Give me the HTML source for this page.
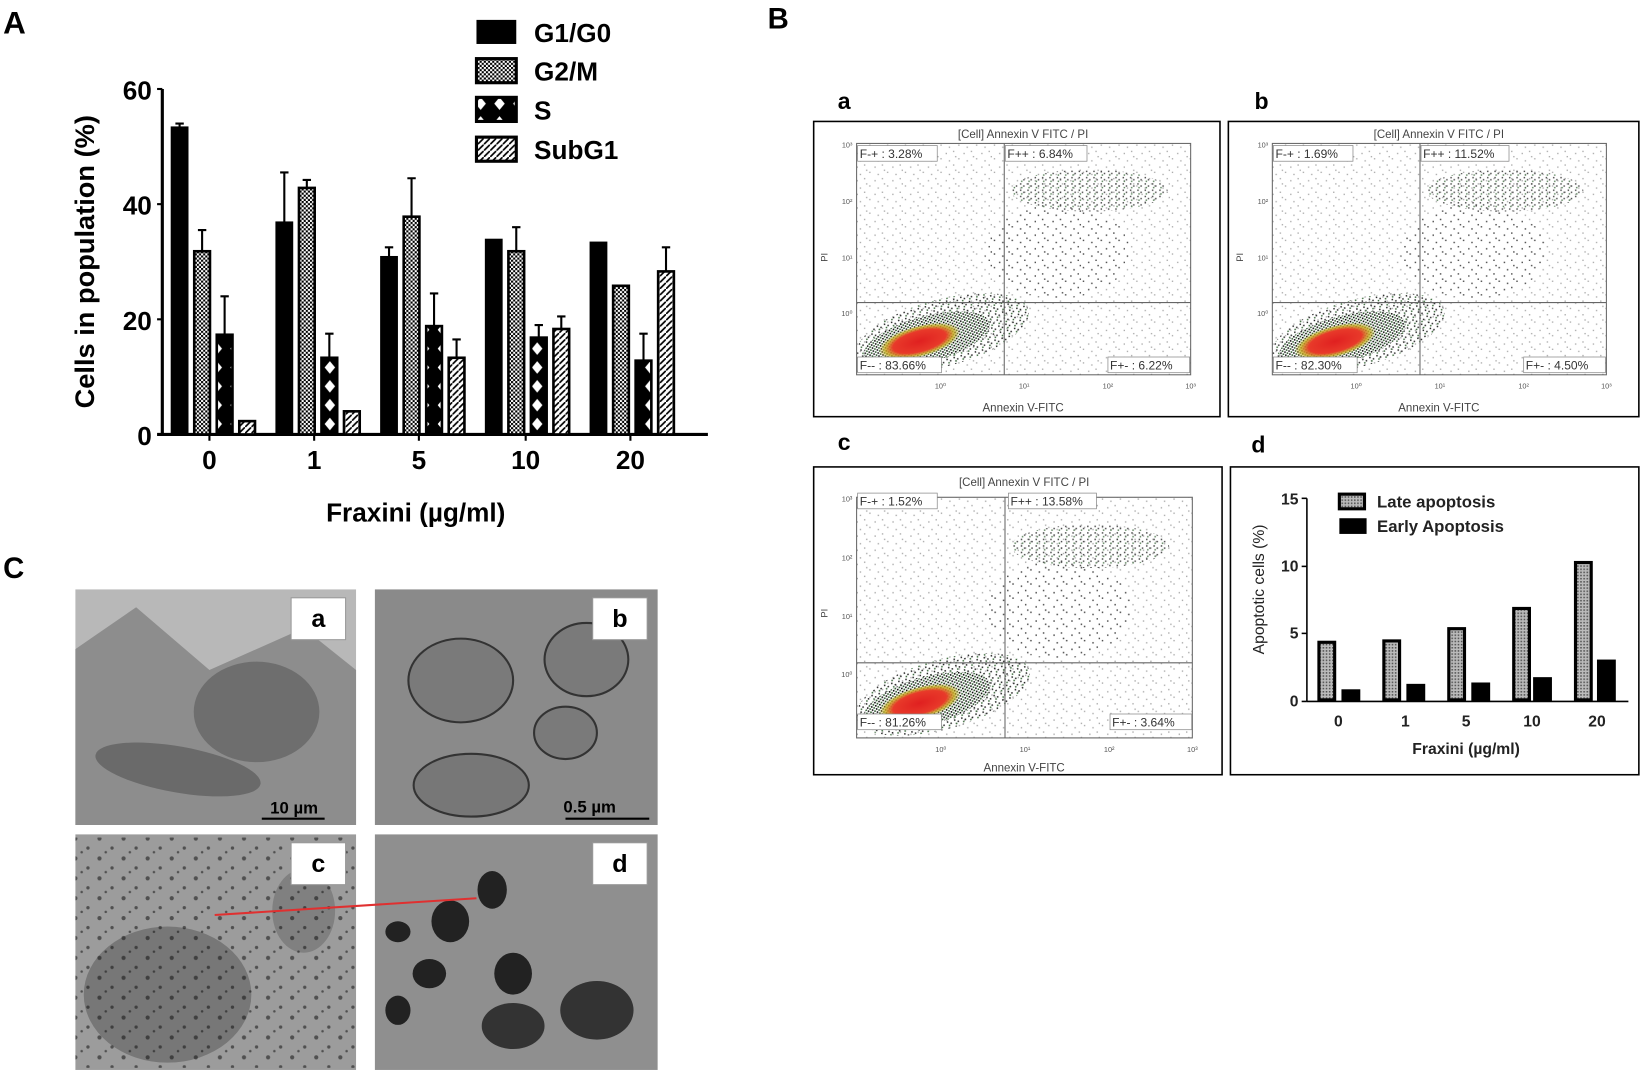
<!DOCTYPE html>
<html><head><meta charset="utf-8"><style>
html,body{margin:0;padding:0;background:#fff}
svg{display:block}
text{font-family:"Liberation Sans",sans-serif}
</style></head><body>
<svg width="1642" height="1071" viewBox="0 0 1568 1023" preserveAspectRatio="none" xmlns="http://www.w3.org/2000/svg">
<defs>
<pattern id="chk" width="4" height="4" patternUnits="userSpaceOnUse"><rect width="4" height="4" fill="#fff"/><rect width="2" height="2" fill="#000"/><rect x="2" y="2" width="2" height="2" fill="#000"/></pattern>
<pattern id="xx" width="18" height="18" patternUnits="userSpaceOnUse"><rect width="18" height="18" fill="#000"/><path d="M9 3 L14 9 L9 15 L4 9Z" fill="#fff"/></pattern>
<pattern id="diag" width="6" height="6" patternUnits="userSpaceOnUse"><rect width="6" height="6" fill="#fff"/><path d="M-1 7 L7 -1" stroke="#000" stroke-width="1.6"/></pattern>
<pattern id="gchk" width="3" height="3" patternUnits="userSpaceOnUse"><rect width="3" height="3" fill="#bbb"/><rect width="1.5" height="1.5" fill="#555"/></pattern>
<pattern id="sp" width="17" height="13" patternUnits="userSpaceOnUse"><g fill="#444"><rect x="2" y="3" width="1.3" height="1.3"/><rect x="9" y="1" width="1.3" height="1.3"/><rect x="14" y="8" width="1.3" height="1.3"/><rect x="5" y="10" width="1.3" height="1.3"/><rect x="11" y="6" width="1.3" height="1.3"/></g></pattern>
<pattern id="md" width="7" height="6" patternUnits="userSpaceOnUse"><g fill="#222"><rect x="1" y="1" width="1.4" height="1.4"/><rect x="4" y="3" width="1.4" height="1.4"/><rect x="2" y="4.5" width="1.4" height="1.4" fill="#3a6a3a"/></g></pattern>
<pattern id="dn" width="4" height="3" patternUnits="userSpaceOnUse"><rect width="4" height="3" fill="#fff"/><g fill="#111"><rect x="0" y="0" width="1.5" height="1.5"/><rect x="2" y="1.5" width="1.5" height="1.5" fill="#2f5a2f"/></g></pattern>
<pattern id="bd" width="23" height="19" patternUnits="userSpaceOnUse"><g fill="#111"><circle cx="3" cy="3" r="2"/><circle cx="15" cy="12" r="1.6"/><circle cx="9" cy="16" r="1.2"/></g></pattern>
<radialGradient id="red"><stop offset="0" stop-color="#e02020"/><stop offset="0.65" stop-color="#e83a2a"/><stop offset="0.85" stop-color="#c9b020" stop-opacity="0.8"/><stop offset="1" stop-color="#c9b020" stop-opacity="0"/></radialGradient>
<g id="fp">
<rect x="818" y="137" width="319" height="221" fill="url(#sp)" opacity="0.45"/>
<ellipse cx="1040" cy="182" rx="75" ry="20" fill="url(#md)" opacity="0.8"/>
<ellipse cx="1010" cy="240" rx="70" ry="45" fill="url(#sp)" opacity="0.9"/>
<ellipse cx="900" cy="318" rx="85" ry="32" transform="rotate(-15 900 318)" fill="url(#md)"/>
<ellipse cx="885" cy="324" rx="62" ry="22" transform="rotate(-15 885 324)" fill="url(#dn)"/>
<ellipse cx="878" cy="326" rx="40" ry="15" transform="rotate(-15 878 326)" fill="url(#red)"/>
<rect x="818" y="137" width="319" height="221" fill="none" stroke="#666"/>
<line x1="959" y1="137" x2="959" y2="358" stroke="#666"/>
<line x1="818" y1="289" x2="1137" y2="289" stroke="#666"/>
<g font-size="7" fill="#555" text-anchor="middle"><text x="898" y="371">10⁰</text><text x="978" y="371">10¹</text><text x="1058" y="371">10²</text><text x="1137" y="371">10³</text></g>
<g font-size="7" fill="#555" text-anchor="end"><text x="814" y="302">10⁰</text><text x="814" y="249">10¹</text><text x="814" y="195">10²</text><text x="814" y="141">10³</text></g>
</g>
</defs>
<g id="A">
<text x="3" y="32" font-size="30" font-weight="bold">A</text>
<line x1="155" y1="85" x2="155" y2="416" stroke="#000" stroke-width="3"/>
<line x1="150" y1="415" x2="676" y2="415" stroke="#000" stroke-width="3"/>
<g font-size="25" font-weight="bold" text-anchor="end">
<text x="145" y="95">60</text><text x="145" y="205">40</text><text x="145" y="315">20</text><text x="145" y="425">0</text></g>
<g stroke="#000" stroke-width="2"><line x1="150" y1="85" x2="155" y2="85"/><line x1="150" y1="195" x2="155" y2="195"/><line x1="150" y1="305" x2="155" y2="305"/><line x1="200" y1="415" x2="200" y2="421"/><line x1="300" y1="415" x2="300" y2="421"/><line x1="400" y1="415" x2="400" y2="421"/><line x1="502" y1="415" x2="502" y2="421"/><line x1="602" y1="415" x2="602" y2="421"/></g>
<g font-size="25" font-weight="bold" text-anchor="middle">
<text x="200" y="448">0</text><text x="300" y="448">1</text><text x="400" y="448">5</text><text x="502" y="448">10</text><text x="602" y="448">20</text>
<text x="397" y="498">Fraxini (µg/ml)</text></g>
<text transform="translate(90,250) rotate(-90)" font-size="26" font-weight="bold" text-anchor="middle">Cells in population (%)</text>
<g stroke="#000" stroke-width="2">
<path d="M171.5 118V121M167.5 118H175.5"/>
<path d="M271.5 164.75V212M267.5 164.75H275.5"/>
<path d="M371.5 236.25V245M367.5 236.25H375.5"/>
<path d="M193 219.75V240M189 219.75H197"/>
<path d="M293 171.9V179M289 171.9H297"/>
<path d="M393 170.25V207M389 170.25H397"/>
<path d="M493 217V240M489 217H497"/>
<path d="M214.5 283V320M210.5 283H218.5"/>
<path d="M314.5 318.75V342M310.5 318.75H318.5"/>
<path d="M414.5 280.25V312M410.5 280.25H418.5"/>
<path d="M514.5 310.5V322M510.5 310.5H518.5"/>
<path d="M614.5 318.75V344M610.5 318.75H618.5"/>
<path d="M436 324.25V342M432 324.25H440"/>
<path d="M536 302.25V314M532 302.25H540"/>
<path d="M636 236.25V259M632 236.25H640"/>
</g>
<g fill="#000"><rect x="163" y="120.75" width="17" height="294.25"/><rect x="263" y="211.5" width="17" height="203.5"/><rect x="363" y="244.5" width="17" height="170.5"/><rect x="463" y="228" width="17" height="187"/><rect x="563" y="230.75" width="17" height="184.25"/></g>
<g stroke="#000" stroke-width="2.5">
<g fill="url(#chk)"><rect x="185.5" y="240" width="15" height="175"/><rect x="285.5" y="179.5" width="15" height="235.5"/><rect x="385.5" y="207" width="15" height="208"/><rect x="485.5" y="240" width="15" height="175"/><rect x="585.5" y="273" width="15" height="142"/></g>
<g fill="url(#xx)"><rect x="207" y="319.75" width="15" height="95.25"/><rect x="307" y="341.75" width="15" height="73.25"/><rect x="407" y="311.5" width="15" height="103.5"/><rect x="507" y="322.5" width="15" height="92.5"/><rect x="607" y="344.5" width="15" height="70.5"/></g>
<g fill="url(#diag)"><rect x="228.5" y="402.25" width="15" height="12.75"/><rect x="328.5" y="392.9" width="15" height="22.1"/><rect x="428.5" y="341.75" width="15" height="73.25"/><rect x="528.5" y="314.25" width="15" height="100.75"/><rect x="628.5" y="259.25" width="15" height="155.75"/></g>
</g>
<g font-size="25" font-weight="bold">
<rect x="455" y="19" width="38" height="23" fill="#000"/><text x="510" y="40">G1/G0</text>
<rect x="455" y="56" width="38" height="23" fill="url(#chk)" stroke="#000" stroke-width="3"/><text x="510" y="77">G2/M</text>
<rect x="455" y="93" width="38" height="23" fill="url(#xx)" stroke="#000" stroke-width="3"/><text x="510" y="114">S</text>
<rect x="455" y="131" width="38" height="23" fill="url(#diag)" stroke="#000" stroke-width="3"/><text x="510" y="152">SubG1</text>
</g></g>
<text x="733" y="27" font-size="28" font-weight="bold">B</text>
<g font-size="22" font-weight="bold"><text x="800" y="104">a</text><text x="1198" y="104">b</text><text x="800" y="430">c</text><text x="1195" y="432">d</text></g>
<g fill="none" stroke="#000" stroke-width="1.5">
<rect x="777" y="116" width="388" height="282"/><rect x="1173" y="116" width="392" height="282"/>
<rect x="777" y="446" width="390" height="294"/><rect x="1175" y="446" width="390" height="294"/></g>
<use href="#fp"/>
<use href="#fp" transform="translate(397,0)"/>
<use href="#fp" transform="translate(0,338) translate(818,137) scale(1.005,1.04) translate(-818,-137)"/>
<g font-size="11" fill="#444" text-anchor="middle">
<text x="977" y="132">[Cell] Annexin V FITC / PI</text><text x="1374" y="132">[Cell] Annexin V FITC / PI</text><text x="978" y="464">[Cell] Annexin V FITC / PI</text>
<text x="977" y="393">Annexin V-FITC</text><text x="1374" y="393">Annexin V-FITC</text><text x="978" y="737">Annexin V-FITC</text></g>
<g font-size="9" fill="#444"><text transform="translate(790,250) rotate(-90)">PI</text><text transform="translate(1187,250) rotate(-90)">PI</text><text transform="translate(790,590) rotate(-90)">PI</text></g>
<g fill="#fff" stroke="#888" stroke-width="0.7">
<rect x="819" y="139" width="76" height="15"/><rect x="960" y="139" width="78" height="15"/><rect x="819" y="341" width="80" height="15"/><rect x="1058" y="341" width="78" height="15"/>
<rect x="1216" y="139" width="76" height="15"/><rect x="1357" y="139" width="84" height="15"/><rect x="1216" y="341" width="80" height="15"/><rect x="1455" y="341" width="78" height="15"/>
<rect x="819" y="471" width="76" height="15"/><rect x="963" y="471" width="84" height="15"/><rect x="819" y="682" width="80" height="15"/><rect x="1060" y="682" width="78" height="15"/></g>
<g font-size="11.5" fill="#333">
<text x="821" y="151">F-+ : 3.28%</text><text x="962" y="151">F++ : 6.84%</text><text x="821" y="353">F-- : 83.66%</text><text x="1060" y="353">F+- : 6.22%</text>
<text x="1218" y="151">F-+ : 1.69%</text><text x="1359" y="151">F++ : 11.52%</text><text x="1218" y="353">F-- : 82.30%</text><text x="1457" y="353">F+- : 4.50%</text>
<text x="821" y="483">F-+ : 1.52%</text><text x="965" y="483">F++ : 13.58%</text><text x="821" y="694">F-- : 81.26%</text><text x="1062" y="694">F+- : 3.64%</text></g>
<g id="D">
<line x1="1248" y1="476" x2="1248" y2="670" stroke="#000" stroke-width="1.5"/>
<line x1="1248" y1="670" x2="1555" y2="670" stroke="#000" stroke-width="1.5"/>
<g stroke="#000" stroke-width="1.5"><line x1="1243" y1="476" x2="1248" y2="476"/><line x1="1243" y1="541" x2="1248" y2="541"/><line x1="1243" y1="605" x2="1248" y2="605"/><line x1="1243" y1="670" x2="1248" y2="670"/></g>
<g font-size="15" font-weight="bold" text-anchor="end" fill="#222"><text x="1240" y="482">15</text><text x="1240" y="546">10</text><text x="1240" y="610">5</text><text x="1240" y="675">0</text></g>
<g font-size="15" font-weight="bold" text-anchor="middle" fill="#222"><text x="1278" y="694">0</text><text x="1342" y="694">1</text><text x="1400" y="694">5</text><text x="1463" y="694">10</text><text x="1525" y="694">20</text>
<text x="1400" y="720">Fraxini (µg/ml)</text></g>
<text transform="translate(1207,563) rotate(-90)" font-size="15" text-anchor="middle" fill="#222">Apoptotic cells (%)</text>
<rect x="1279" y="472" width="24" height="14" fill="url(#gchk)" stroke="#000" stroke-width="3"/>
<rect x="1279" y="495" width="26" height="15" fill="#000"/>
<g font-size="16" font-weight="bold" fill="#222"><text x="1315" y="485">Late apoptosis</text><text x="1315" y="508">Early Apoptosis</text></g>
<g fill="url(#gchk)" stroke="#000" stroke-width="3">
<rect x="1259.5" y="613.5" width="15" height="55"/><rect x="1321.5" y="612.2" width="15" height="56.3"/><rect x="1383.5" y="600.5" width="15" height="68"/><rect x="1445.5" y="581.2" width="15" height="87.3"/><rect x="1504.5" y="537.3" width="15" height="131.2"/></g>
<g fill="#000"><rect x="1281" y="658.4" width="18" height="11.6"/><rect x="1343" y="653.2" width="18" height="16.8"/><rect x="1405" y="651.9" width="18" height="18.1"/><rect x="1464" y="646.8" width="18" height="23.2"/><rect x="1525" y="630" width="18" height="40"/></g>
</g>
<text x="3" y="552" font-size="28" font-weight="bold">C</text>
<g id="C">
<rect x="72" y="563" width="268" height="225" fill="#b8b8b8"/>
<rect x="358" y="563" width="270" height="225" fill="#8a8a8a"/>
<rect x="72" y="797" width="268" height="225" fill="#9c9c9c"/>
<rect x="358" y="797" width="270" height="225" fill="#8f8f8f"/>
<path d="M72 620 L130 580 L200 640 L290 600 L340 640 L340 788 L72 788Z" fill="#8d8d8d"/>
<ellipse cx="245" cy="680" rx="60" ry="48" fill="#6e6e6e"/>
<ellipse cx="170" cy="735" rx="80" ry="22" transform="rotate(10 170 735)" fill="#6a6a6a"/>
<ellipse cx="440" cy="650" rx="50" ry="40" fill="#7a7a7a" stroke="#333" stroke-width="2"/>
<ellipse cx="560" cy="630" rx="40" ry="35" fill="#7a7a7a" stroke="#333" stroke-width="2"/>
<ellipse cx="450" cy="750" rx="55" ry="30" fill="#777" stroke="#333" stroke-width="2"/>
<ellipse cx="540" cy="700" rx="30" ry="25" fill="#7a7a7a" stroke="#333" stroke-width="2"/>
<ellipse cx="160" cy="950" rx="80" ry="65" fill="#777"/>
<ellipse cx="290" cy="870" rx="30" ry="40" fill="#808080"/>
<rect x="72" y="800" width="268" height="220" fill="url(#bd)" opacity="0.55"/>
<g fill="#222"><ellipse cx="380" cy="890" rx="12" ry="10"/><ellipse cx="430" cy="880" rx="18" ry="20"/><ellipse cx="470" cy="850" rx="14" ry="18"/><ellipse cx="410" cy="930" rx="16" ry="14"/><ellipse cx="490" cy="930" rx="18" ry="20"/><ellipse cx="570" cy="965" rx="35" ry="28" fill="#333"/><ellipse cx="490" cy="980" rx="30" ry="22" fill="#333"/><ellipse cx="380" cy="965" rx="12" ry="14"/></g>
<g fill="#fff" stroke="#999" stroke-width="1"><rect x="278" y="571" width="52" height="40"/><rect x="566" y="571" width="52" height="40"/><rect x="278" y="805" width="52" height="40"/><rect x="566" y="805" width="52" height="40"/></g>
<g font-size="24" font-weight="bold" text-anchor="middle"><text x="304" y="599">a</text><text x="592" y="599">b</text><text x="304" y="833">c</text><text x="592" y="833">d</text></g>
<text x="258" y="777" font-size="16" font-weight="bold">10 µm</text>
<text x="538" y="776" font-size="16" font-weight="bold">0.5 µm</text>
<line x1="250" y1="782" x2="310" y2="782" stroke="#000" stroke-width="2"/>
<line x1="540" y1="782" x2="620" y2="782" stroke="#000" stroke-width="2"/>
<line x1="205" y1="874" x2="455" y2="858" stroke="#e03030" stroke-width="2"/>
</g>
</svg>
</body></html>
